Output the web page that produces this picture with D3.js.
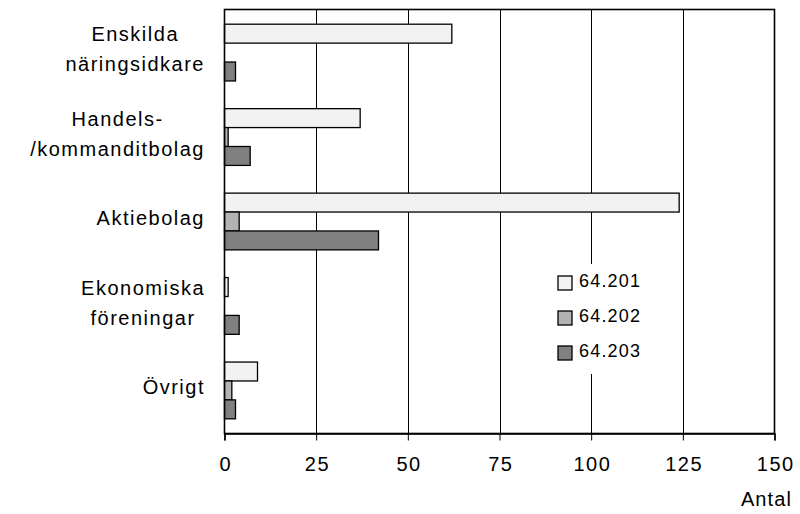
<!DOCTYPE html>
<html>
<head>
<meta charset="utf-8">
<script src="https://cdn.jsdelivr.net/npm/d3@7/dist/d3.min.js"></script>
<style>
  html, body { margin: 0; padding: 0; background: #fff; }
  svg { display: block; font-family: "Liberation Sans", Arial, sans-serif; }
</style>
</head>
<body>
<svg id="chart" width="800" height="514"></svg>
<script>
// ---- data ----
const categories = ["Enskilda\nnäringsidkare", "Handels-\n/kommanditbolag", "Aktiebolag", "Ekonomiska\nföreningar", "Övrigt"];
const seriesNames = ["64.201", "64.202", "64.203"];
const values201 = [62, 37, 124, 1, 9];
const values202 = [0, 1, 4, 0, 2];
const values203 = [3, 7, 42, 4, 3];
const xTicks = [0, 25, 50, 75, 100, 125, 150];
const xTitle = "Antal";
const seriesColors = ["#f2f2f2", "#b3b3b3", "#808080"];

const seriesValues = [values201, values202, values203];

const svg = d3.select("#chart");
const mLeft = 224.5, mRight = 774.5, mTop = 9.5, mBottom = 433.5;

const x = d3.scaleLinear().domain([0, 150]).range([mLeft, mRight]);
const y = d3.scaleBand().domain(categories).range([mTop, mBottom]).paddingInner(0.328).paddingOuter(0.174);
const ySub = d3.scaleBand().domain(seriesNames).range([0, y.bandwidth()]);

// plot background
svg.append("rect").attr("x", mLeft).attr("y", mTop).attr("width", mRight - mLeft).attr("height", mBottom - mTop).attr("fill", "#fff");

// gridlines
svg.append("g").selectAll("line").data(xTicks.slice(1, -1)).join("line")
  .attr("x1", d => Math.round(x(d)) + 0.5).attr("x2", d => Math.round(x(d)) + 0.5)
  .attr("y1", mTop).attr("y2", mBottom)
  .attr("stroke", "#000").attr("stroke-width", 1);

// bars
const rows = [];
categories.forEach((c, i) => seriesNames.forEach((s, j) => rows.push({c, s, v: seriesValues[j][i], color: seriesColors[j]})));
svg.append("g").selectAll("rect").data(rows.filter(d => d.v > 0)).join("rect")
  .attr("x", x(0))
  .attr("y", d => y(d.c) + ySub(d.s))
  .attr("width", d => x(d.v) - x(0))
  .attr("height", ySub.bandwidth())
  .attr("fill", d => d.color)
  .attr("stroke", "#000").attr("stroke-width", 1.3);

// frame
svg.append("rect").attr("x", mLeft).attr("y", mTop).attr("width", mRight - mLeft).attr("height", mBottom - mTop)
  .attr("fill", "none").attr("stroke", "#000").attr("stroke-width", 1.6);

// x axis
const xAxis = d3.axisBottom(x).tickValues(xTicks).tickSize(7).tickPadding(16);
const gx = svg.append("g").attr("transform", `translate(0,${mBottom})`).call(xAxis);
gx.select(".domain").attr("stroke", "#000").attr("stroke-width", 1.6);
gx.selectAll(".tick line").attr("stroke", "#000").attr("stroke-width", 1);
gx.selectAll(".tick text").attr("font-size", 20).attr("fill", "#000")
  .attr("font-family", "Liberation Sans, Arial, sans-serif")
  .style("letter-spacing", "1.5px").attr("dx", "0.75px");

svg.append("text").attr("x", 792).attr("y", 506).attr("text-anchor", "end")
  .attr("font-size", 20).style("letter-spacing", "1.1px").text(xTitle);

// category labels
const labelRight = 205;
categories.forEach(c => {
  const lines = c.split("\n");
  const g = svg.append("g");
  const lineH = 30;
  const cy = y(c) + y.bandwidth() / 2;
  const y0 = cy - (lines.length - 1) * lineH / 2;
  const texts = lines.map((l, k) => g.append("text")
    .attr("y", y0 + k * lineH).attr("dy", "0.19em")
    .attr("font-size", 20).style("letter-spacing", "1.5px")
    .attr("text-anchor", "middle").text(l));
  const widths = texts.map(t => t.node().getComputedTextLength());
  const maxW = d3.max(widths);
  texts.forEach(t => t.attr("x", labelRight - maxW / 2));
});

// legend
const lg = svg.append("g");
lg.append("rect").attr("x", 550).attr("y", 264).attr("width", 100).attr("height", 110).attr("fill", "#fff");
seriesNames.forEach((s, j) => {
  const yy = 276 + j * 35;
  lg.append("rect").attr("x", 558).attr("y", yy).attr("width", 14).attr("height", 14)
    .attr("fill", seriesColors[j]).attr("stroke", "#000").attr("stroke-width", 1.3);
  lg.append("text").attr("x", 579).attr("y", yy + 11).attr("font-size", 18)
    .style("letter-spacing", "1.2px").text(s);
});
</script>
</body>
</html>
